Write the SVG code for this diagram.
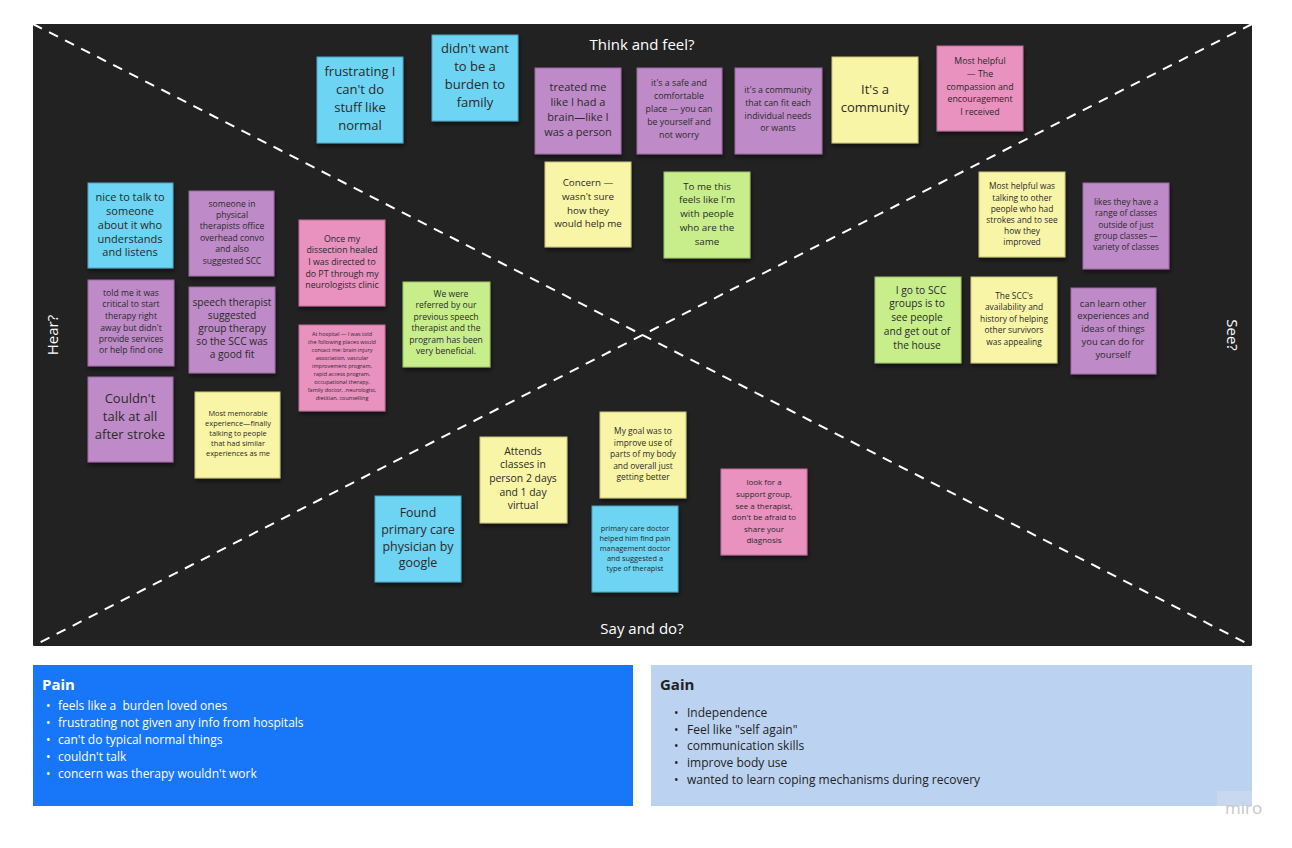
<svg xmlns="http://www.w3.org/2000/svg" width="1292" height="848" viewBox="0 0 1292 848">
<defs>
<filter id="sh" x="-10%" y="-10%" width="130%" height="130%"><feDropShadow dx="1" dy="3" stdDeviation="2" flood-color="#000" flood-opacity="0.5"/></filter>
<style>
.n{filter:url(#sh);stroke-width:1}
.b{fill:#6dd4f3;stroke:#4aa6c4}
.p{fill:#bf8ac8;stroke:#9a68a3}
.y{fill:#f9f5a6;stroke:#c9c47a}
.k{fill:#e991bf;stroke:#c06f98}
.g{fill:#c8ee8c;stroke:#9dc266}
.t{font-family:"Open Sans","Liberation Sans",sans-serif;fill:#2a2a2a;text-anchor:middle;dominant-baseline:central}
.lbl{font-family:"Open Sans","Liberation Sans",sans-serif;fill:#fff;font-size:15px;text-anchor:middle;dominant-baseline:central}
.dl{stroke:#fff;stroke-width:2;stroke-dasharray:10 8;fill:none}
.wt{font-family:"Open Sans","Liberation Sans",sans-serif;fill:#fff;font-size:12px}
.dt{font-family:"Open Sans","Liberation Sans",sans-serif;fill:#222;font-size:12px}
</style>
</defs>
<rect width="1292" height="848" fill="#fff"/>
<rect x="33" y="24" width="1219" height="622" fill="#222"/>
<g id="connectors">
<line class="dl" x1="33" y1="24" x2="1252" y2="646"/>
<line class="dl" x1="1252" y1="24" x2="33" y2="646"/>
</g>
<text class="lbl" x="642" y="44">Think and feel?</text>
<text class="lbl" x="642" y="628">Say and do?</text>
<text class="lbl" transform="translate(52,335) rotate(-90)">Hear?</text>
<text class="lbl" transform="translate(1233,335) rotate(90)">See?</text>

<g id="n1"><rect class="n b" x="317" y="57" width="86" height="86"/><text class="t" font-size="13"><tspan x="360" y="71">frustrating I</tspan><tspan x="360" y="89">can't do</tspan><tspan x="360" y="107">stuff like</tspan><tspan x="360" y="125">normal</tspan></text></g>
<g id="n2"><rect class="n b" x="432" y="35" width="86" height="86"/><text class="t" font-size="13"><tspan x="475" y="48">didn't want</tspan><tspan x="475" y="66">to be a</tspan><tspan x="475" y="84">burden to</tspan><tspan x="475" y="102">family</tspan></text></g>
<g id="n3"><rect class="n p" x="535" y="68" width="86" height="86"/><text class="t" font-size="11"><tspan x="578" y="86">treated me</tspan><tspan x="578" y="101">like I had a</tspan><tspan x="578" y="116">brain—like I</tspan><tspan x="578" y="131">was a person</tspan></text></g>
<g id="n4"><rect class="n p" x="637" y="68" width="85" height="86"/><text class="t" font-size="8.8"><tspan x="679" y="83">it's a safe and</tspan><tspan x="679" y="96">comfortable</tspan><tspan x="679" y="109">place — you can</tspan><tspan x="679" y="122">be yourself and</tspan><tspan x="679" y="135">not worry</tspan></text></g>
<g id="n5"><rect class="n p" x="735" y="68" width="87" height="86"/><text class="t" font-size="8.8"><tspan x="778" y="90">it's a community</tspan><tspan x="778" y="103">that can fit each</tspan><tspan x="778" y="116">individual needs</tspan><tspan x="778" y="128">or wants</tspan></text></g>
<g id="n6"><rect class="n y" x="832" y="57" width="86" height="86"/><text class="t" font-size="13"><tspan x="875" y="89">It's a</tspan><tspan x="875" y="107">community</tspan></text></g>
<g id="n7"><rect class="n k" x="937" y="46" width="86" height="85"/><text class="t" font-size="8.8"><tspan x="980" y="61">Most helpful</tspan><tspan x="980" y="74">— The</tspan><tspan x="980" y="87">compassion and</tspan><tspan x="980" y="99">encouragement</tspan><tspan x="980" y="112">I received</tspan></text></g>
<g id="n8"><rect class="n y" x="545" y="162" width="86" height="85"/><text class="t" font-size="9.8"><tspan x="588" y="182">Concern —</tspan><tspan x="588" y="196">wasn't sure</tspan><tspan x="588" y="210">how they</tspan><tspan x="588" y="223">would help me</tspan></text></g>
<g id="n9"><rect class="n g" x="664" y="172" width="86" height="86"/><text class="t" font-size="9.8"><tspan x="707" y="186">To me this</tspan><tspan x="707" y="199">feels like I'm</tspan><tspan x="707" y="213">with people</tspan><tspan x="707" y="227">who are the</tspan><tspan x="707" y="241">same</tspan></text></g>
<g id="n10"><rect class="n b" x="88" y="183" width="85" height="85"/><text class="t" font-size="11"><tspan x="130" y="196">nice to talk to</tspan><tspan x="130" y="210">someone</tspan><tspan x="130" y="224">about it who</tspan><tspan x="130" y="238">understands</tspan><tspan x="130" y="251">and listens</tspan></text></g>
<g id="n11"><rect class="n p" x="189" y="191" width="85" height="85"/><text class="t" font-size="8.6"><tspan x="232" y="204">someone in</tspan><tspan x="232" y="215">physical</tspan><tspan x="232" y="226">therapists office</tspan><tspan x="232" y="238">overhead convo</tspan><tspan x="232" y="249">and also</tspan><tspan x="232" y="261">suggested SCC</tspan></text></g>
<g id="n12"><rect class="n k" x="299" y="220" width="86" height="86"/><text class="t" font-size="8.8"><tspan x="342" y="239">Once my</tspan><tspan x="342" y="250">dissection healed</tspan><tspan x="342" y="262">I was directed to</tspan><tspan x="342" y="274">do PT through my</tspan><tspan x="342" y="285">neurologists clinic</tspan></text></g>
<g id="n13"><rect class="n p" x="88" y="280" width="86" height="86"/><text class="t" font-size="8.6"><tspan x="131" y="293">told me it was</tspan><tspan x="131" y="304">critical to start</tspan><tspan x="131" y="316">therapy right</tspan><tspan x="131" y="328">away but didn't</tspan><tspan x="131" y="339">provide services</tspan><tspan x="131" y="350">or help find one</tspan></text></g>
<g id="n14"><rect class="n p" x="189" y="287" width="86" height="86"/><text class="t" font-size="10.2"><tspan x="232" y="302">speech therapist</tspan><tspan x="232" y="315">suggested</tspan><tspan x="232" y="328">group therapy</tspan><tspan x="232" y="341">so the SCC was</tspan><tspan x="232" y="354">a good fit</tspan></text></g>
<g id="n15"><rect class="n k" x="299" y="325" width="86" height="86"/><text class="t" font-size="5.5"><tspan x="342" y="334">At hospital — I was told</tspan><tspan x="342" y="342">the following places would</tspan><tspan x="342" y="350">contact me: brain injury</tspan><tspan x="342" y="358">association, vascular</tspan><tspan x="342" y="366">improvement program,</tspan><tspan x="342" y="374">rapid access program,</tspan><tspan x="342" y="382">occupational therapy,</tspan><tspan x="342" y="390">family doctor, .neurologist,</tspan><tspan x="342" y="398">dietitian, counselling</tspan></text></g>
<g id="n16"><rect class="n g" x="403" y="282" width="87" height="85"/><text class="t" font-size="8.6"><tspan x="451" y="294">We were</tspan><tspan x="446" y="305">referred by our</tspan><tspan x="446" y="317">previous speech</tspan><tspan x="446" y="328">therapist and the</tspan><tspan x="446" y="340">program has been</tspan><tspan x="446" y="351">very beneficial.</tspan></text></g>
<g id="n17"><rect class="n p" x="88" y="377" width="85" height="85"/><text class="t" font-size="13"><tspan x="130" y="398">Couldn't</tspan><tspan x="130" y="416">talk at all</tspan><tspan x="130" y="434">after stroke</tspan></text></g>
<g id="n18"><rect class="n y" x="195" y="392" width="85" height="86"/><text class="t" font-size="7.4"><tspan x="238" y="413">Most memorable</tspan><tspan x="238" y="423">experience—finally</tspan><tspan x="238" y="433">talking to people</tspan><tspan x="238" y="443">that had similar</tspan><tspan x="238" y="453">experiences as me</tspan></text></g>
<g id="n19"><rect class="n y" x="979" y="172" width="86" height="85"/><text class="t" font-size="8.4"><tspan x="1022" y="185">Most helpful was</tspan><tspan x="1022" y="197">talking to other</tspan><tspan x="1022" y="208">people who had</tspan><tspan x="1022" y="219">strokes and to see</tspan><tspan x="1022" y="230">how they</tspan><tspan x="1022" y="241">improved</tspan></text></g>
<g id="n20"><rect class="n p" x="1083" y="183" width="86" height="86"/><text class="t" font-size="8.4"><tspan x="1126" y="201">likes they have a</tspan><tspan x="1126" y="212">range of classes</tspan><tspan x="1126" y="224">outside of just</tspan><tspan x="1126" y="235">group classes —</tspan><tspan x="1126" y="246">variety of classes</tspan></text></g>
<g id="n21"><rect class="n g" x="875" y="277" width="86" height="86"/><text class="t" font-size="10.2"><tspan x="921" y="290">I go to SCC</tspan><tspan x="917" y="303">groups is to</tspan><tspan x="917" y="317">see people</tspan><tspan x="917" y="331">and get out of</tspan><tspan x="917" y="345">the house</tspan></text></g>
<g id="n22"><rect class="n y" x="971" y="277" width="86" height="86"/><text class="t" font-size="8.4"><tspan x="1014" y="295">The SCC's</tspan><tspan x="1014" y="306">availability and</tspan><tspan x="1014" y="318">history of helping</tspan><tspan x="1014" y="329">other survivors</tspan><tspan x="1014" y="341">was appealing</tspan></text></g>
<g id="n23"><rect class="n p" x="1071" y="288" width="85" height="86"/><text class="t" font-size="9.4"><tspan x="1113" y="303">can learn other</tspan><tspan x="1113" y="315">experiences and</tspan><tspan x="1113" y="328">ideas of things</tspan><tspan x="1113" y="341">you can do for</tspan><tspan x="1113" y="354">yourself</tspan></text></g>
<g id="n24"><rect class="n y" x="480" y="437" width="87" height="86"/><text class="t" font-size="10.4"><tspan x="523" y="451">Attends</tspan><tspan x="523" y="464">classes in</tspan><tspan x="523" y="478">person 2 days</tspan><tspan x="523" y="492">and 1 day</tspan><tspan x="523" y="505">virtual</tspan></text></g>
<g id="n25"><rect class="n y" x="600" y="412" width="86" height="86"/><text class="t" font-size="8.4"><tspan x="643" y="430">My goal was to</tspan><tspan x="643" y="442">improve use of</tspan><tspan x="643" y="453">parts of my body</tspan><tspan x="643" y="465">and overall just</tspan><tspan x="643" y="476">getting better</tspan></text></g>
<g id="n26"><rect class="n k" x="721" y="469" width="86" height="86"/><text class="t" font-size="8"><tspan x="764" y="481">look for a</tspan><tspan x="764" y="493">support group,</tspan><tspan x="764" y="505">see a therapist,</tspan><tspan x="764" y="516">don't be afraid to</tspan><tspan x="764" y="528">share your</tspan><tspan x="764" y="539">diagnosis</tspan></text></g>
<g id="n27"><rect class="n b" x="375" y="496" width="86" height="86"/><text class="t" font-size="12.4"><tspan x="418" y="512">Found</tspan><tspan x="418" y="529">primary care</tspan><tspan x="418" y="546">physician by</tspan><tspan x="418" y="562">google</tspan></text></g>
<g id="n28"><rect class="n b" x="592" y="506" width="86" height="86"/><text class="t" font-size="7.4"><tspan x="635" y="528">primary care doctor</tspan><tspan x="635" y="538">helped him find pain</tspan><tspan x="635" y="548">management doctor</tspan><tspan x="635" y="558">and suggested a</tspan><tspan x="635" y="568">type of therapist</tspan></text></g>

<g id="pain">
<rect x="33" y="665" width="600" height="141" fill="#1877f8"/>
<text x="42" y="690" font-family="Open Sans, Liberation Sans, sans-serif" font-size="15" font-weight="bold" fill="#fff">Pain</text>
<text x="46" y="710" class="wt">•</text><text x="58" y="710" class="wt">feels like a&#160; burden loved ones</text>
<text x="46" y="727" class="wt">•</text><text x="58" y="727" class="wt">frustrating not given any info from hospitals</text>
<text x="46" y="744" class="wt">•</text><text x="58" y="744" class="wt">can't do typical normal things</text>
<text x="46" y="761" class="wt">•</text><text x="58" y="761" class="wt">couldn't talk</text>
<text x="46" y="778" class="wt">•</text><text x="58" y="778" class="wt">concern was therapy wouldn't work</text>
</g>
<g id="gain">
<rect x="651" y="665" width="601" height="141" fill="#bcd2f1"/>
<text x="660" y="690" font-family="Open Sans, Liberation Sans, sans-serif" font-size="15" font-weight="bold" fill="#222">Gain</text>
<text x="674" y="717" class="dt">•</text><text x="687" y="717" class="dt">Independence</text>
<text x="674" y="734" class="dt">•</text><text x="687" y="734" class="dt">Feel like "self again"</text>
<text x="674" y="750" class="dt">•</text><text x="687" y="750" class="dt">communication skills</text>
<text x="674" y="767" class="dt">•</text><text x="687" y="767" class="dt">improve body use</text>
<text x="674" y="784" class="dt">•</text><text x="687" y="784" class="dt">wanted to learn coping mechanisms during recovery</text>
</g>
<g id="watermark">
<rect x="1217" y="791" width="35" height="15" fill="#c8d8ef"/>
<text x="1225" y="814" font-family="Open Sans, Liberation Sans, sans-serif" font-size="17" fill="#c8c8c8">miro</text>
</g>
</svg>
